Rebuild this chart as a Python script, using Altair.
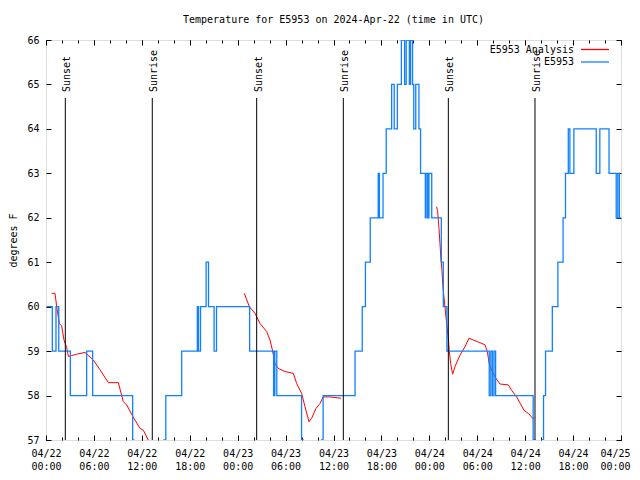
import altair as alt
import pandas as pd

# ---------------- data ----------------
START = pd.Timestamp("2024-04-22T00:00:00Z")
START_MS = int(START.value // 10**6)
HOUR_MS = 3600 * 1000

# E5953 observations: hours after 2024-04-22 00:00 UTC, temperature (F), held until next point
blue_hours = [0.08, 0.79, 1.25, 1.6, 3.05, 5.09, 5.84, 10.85, 11.0, 14.77, 15.0, 16.99,
              18.95, 19.1, 19.35, 20.05, 20.35, 21.05, 21.35, 25.5, 28.5, 28.65, 28.9,
              32.0, 32.2, 34.5, 34.7, 38.7, 39.6, 40.0, 40.6, 41.6, 41.75, 42.2, 42.6,
              43.28, 43.6, 44.0, 44.5, 44.9, 45.1, 45.5, 45.65, 45.9, 46.05, 46.3, 46.7,
              46.9, 47.5, 47.6, 47.8, 47.95, 48.3, 49.5, 49.75, 50.2, 55.5, 55.7, 55.9,
              56.1, 56.3, 61.0, 61.2, 62.1, 62.3, 62.55, 63.4, 64.1, 64.75, 65.05, 65.4,
              65.6, 66.1, 68.9, 69.35, 70.5, 71.4, 71.6, 71.8, 72.0]
blue_temps = [60, 59, 60, 59, 58, 59, 58, 57, 56, 57, 58, 59,
              60, 59, 60, 61, 60, 59, 60, 59, 58, 59, 58,
              57, 56, 57, 58, 59, 60, 61, 62, 63, 62, 63, 64,
              65, 64, 65, 66, 65, 66, 65, 66, 65, 64, 65, 64,
              63, 62, 63, 62, 63, 62, 61, 60, 59, 58, 59, 58,
              59, 58, 57, 56, 57, 58, 59, 60, 61, 62, 63, 64,
              63, 64, 63, 64, 63, 62, 63, 62, 62]

# E5953 Analysis (three night-time segments)
red_hours = [0.71, 1.13, 1.34, 1.67, 1.96, 2.25, 2.59, 2.8, 3.21, 3.84, 4.88, 5.93, 6.76,
             7.81, 9.06, 9.68, 10.1, 10.9, 11.77, 12.19, 12.8, 13.1,
             24.83, 25.46, 26.17, 26.8, 27.63, 28.05, 28.38, 28.67, 29.09, 29.92, 30.97,
             31.39, 32.01, 32.43, 32.93, 33.27, 33.8, 34.3, 34.72, 35.5, 36.95,
             48.91, 49.04, 49.21, 49.33, 49.46, 49.58, 49.67, 49.83, 49.96, 50.08, 50.21,
             50.38, 50.5, 50.67, 50.92, 51.21, 51.84, 52.47, 52.97, 53.5, 54.34, 54.97,
             55.26, 55.5, 55.8, 56.22, 56.84, 57.88, 58.3, 58.93, 59.85, 60.39, 60.93, 61.14]
red_temps = [60.3, 60.3, 60.0, 59.62, 59.57, 59.25, 59.08, 58.88, 58.9, 58.93, 58.97, 58.8, 58.58,
             58.29, 58.29, 57.86, 57.79, 57.52, 57.26, 57.22, 57.0, 56.8,
             60.3, 60.0, 59.85, 59.62, 59.44, 59.25, 59.0, 58.72, 58.61, 58.54, 58.5,
             58.27, 58.05, 57.75, 57.41, 57.49, 57.71, 57.82, 57.97, 57.97, 57.94,
             62.25, 62.14, 61.76, 61.42, 61.05, 60.82, 60.52, 60.22, 60.0, 59.77, 59.55,
             59.29, 59.0, 58.72, 58.48, 58.65, 58.91, 59.1, 59.29, 59.25, 59.19, 59.14,
             58.99, 58.72, 58.57, 58.42, 58.26, 58.24, 58.12, 57.97, 57.67, 57.6, 57.49, 57.49]
red_segment = [1] * 22 + [2] * 21 + [3] * 34

# Sun events
sun_hours = [2.42, 13.31, 26.38, 37.23, 50.38, 61.23]
sun_labels = ["Sunset", "Sunrise", "Sunset", "Sunrise", "Sunset", "Sunrise"]

major_hours = list(range(0, 73, 6))
minor_hours = list(range(0, 73, 2))
y_ticks = list(range(57, 67))

legend_labels = ["E5953 Analysis", "E5953"]
legend_colors = ["#ff0000", "#1080ff"]

title_text = "Temperature for E5953 on 2024-Apr-22 (time in UTC)"
y_title = "degrees F"


def ms(h):
    return START_MS + h * HOUR_MS


blue_df = pd.DataFrame({"t": [ms(h) for h in blue_hours], "temp": blue_temps})
red_df = pd.DataFrame({"t": [ms(h) for h in red_hours], "temp": red_temps, "seg": red_segment})
sun_df = pd.DataFrame({"t": [ms(h) for h in sun_hours], "label": sun_labels})

FONT = "DejaVu Sans Mono"
x_scale = alt.Scale(type="utc", domain=[ms(0), ms(72)])
y_scale = alt.Scale(domain=[57, 66], nice=False, zero=False)

common_axis = dict(grid=False, domain=False, tickColor="black", labelColor="black",
                   labelFont=FONT, labelFontSize=10, titleFont=FONT, titleFontSize=10,
                   titleFontWeight="normal", titleColor="black", tickWidth=1)

last_test = f"datum.value >= {ms(72) - 1000}"
ax_bottom_major = alt.Axis(orient="bottom", values=[ms(h) for h in major_hours], tickSize=5,
                           offset=-5, labelPadding=8, labelLineHeight=13, title=None,
                           labelFlush=False, labelOverlap=False,
                           labelAlign=alt.ConditionalAxisLabelAlign(
                               condition={"test": last_test, "value": "right"}, value="center"),
                           labelOffset=alt.ConditionalAxisNumber(
                               condition={"test": last_test, "value": 9}, value=0),
                           labelExpr="[utcFormat(datum.value, '%m/%d'), utcFormat(datum.value, '%H:%M')]",
                           **common_axis)
ax_bottom_minor = alt.Axis(orient="bottom", values=[ms(h) for h in minor_hours], tickSize=3,
                           offset=-3, labels=False, title=None, **common_axis)
ax_top_major = alt.Axis(orient="top", values=[ms(h) for h in major_hours], tickSize=5,
                        offset=-5, labels=False, title=None, **common_axis)
ax_top_minor = alt.Axis(orient="top", values=[ms(h) for h in minor_hours], tickSize=3,
                        offset=-3, labels=False, title=None, **common_axis)
ax_left = alt.Axis(orient="left", values=y_ticks, tickSize=5, offset=-5, labelPadding=7,
                   title=y_title, titlePadding=8, labelFlush=False, **common_axis)
ax_right = alt.Axis(orient="right", values=y_ticks, tickSize=5, offset=-5, labels=False,
                    title=None, **common_axis)

red = alt.Chart(red_df).mark_line(color=legend_colors[0], strokeWidth=1, clip=True).encode(
    x=alt.X("t:T", scale=x_scale, axis=ax_bottom_major),
    y=alt.Y("temp:Q", scale=y_scale, axis=ax_left),
    detail="seg:N",
)

blue = alt.Chart(blue_df).mark_line(color=legend_colors[1], strokeWidth=1.3, clip=True,
                                    interpolate="step-after").encode(
    x=alt.X("t:T", scale=x_scale, axis=ax_bottom_minor),
    y=alt.Y("temp:Q", scale=y_scale, axis=ax_right),
)

sun_rule = alt.Chart(sun_df).mark_rule(color="black", strokeWidth=1).encode(
    x=alt.X("t:T", scale=x_scale, axis=ax_top_major),
    y=alt.value(58),
    y2=alt.value(400),
)

sun_text = alt.Chart(sun_df).mark_text(angle=270, align="left", baseline="alphabetic", dy=5,
                                       font=FONT, fontSize=10, color="black").encode(
    x=alt.X("t:T", scale=x_scale, axis=ax_top_minor),
    y=alt.value(52),
    text="label:N",
)

legend_layers = []
for i, (lab, col) in enumerate(zip(legend_labels, legend_colors)):
    ypix = 9.5 + 12.5 * i
    legend_layers.append(
        alt.Chart(pd.DataFrame({"label": [lab]})).mark_text(
            align="right", baseline="middle", font=FONT, fontSize=10, color="black"
        ).encode(x=alt.value(528), y=alt.value(ypix), text="label:N")
    )
    legend_layers.append(
        alt.Chart(pd.DataFrame({"label": [lab]})).mark_rule(color=col, strokeWidth=1.3).encode(
            x=alt.value(535), x2=alt.value(563), y=alt.value(ypix)
        )
    )

chart = alt.layer(red, blue, sun_rule, sun_text, *legend_layers).resolve_axis(
    x="independent", y="independent"
).properties(
    width=575,
    height=400,
    autosize=alt.AutoSizeParams(type="none"),
    padding={"left": 38, "top": 32, "right": 10, "bottom": 30},
    title=alt.TitleParams(title_text, font=FONT, fontSize=10, fontWeight="normal",
                          color="black", anchor="middle", offset=10),
).configure_view(stroke="black", strokeWidth=1).configure(background="white")

chart.save("out.html", embed_options={"renderer": "svg", "actions": False})
